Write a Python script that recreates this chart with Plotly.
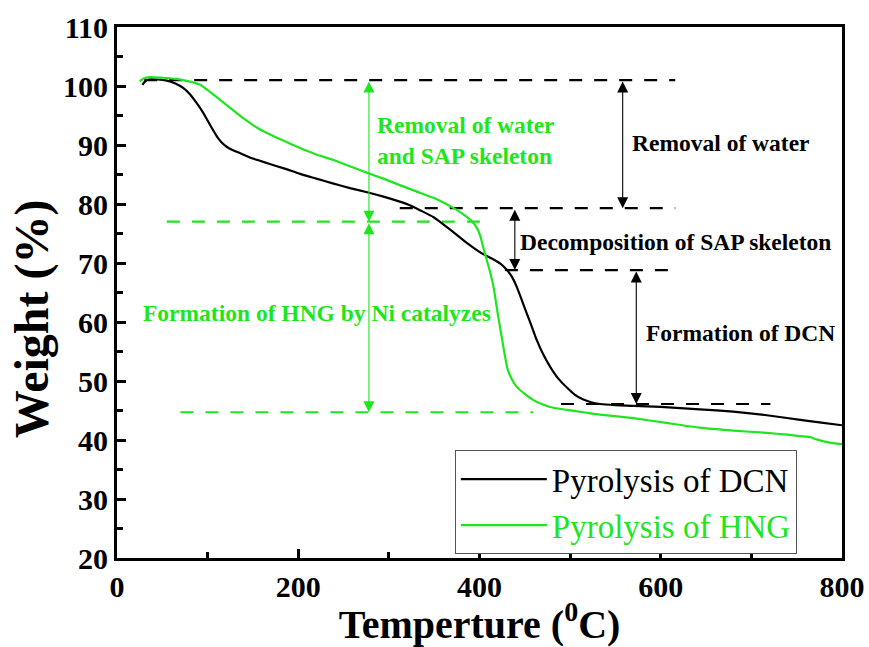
import plotly.graph_objects as go

# ---------------- data ----------------
dcn_temp = [28, 31, 35, 45, 55, 65, 73, 80, 88, 95, 99, 105, 110, 115, 121, 128, 136, 150, 166, 185,
            202, 220, 238, 257, 276, 295, 312, 323, 335, 349, 358, 368, 377, 386, 395, 404, 413, 423,
            428, 432, 436, 441, 446, 452, 458, 463, 470, 478, 487, 497, 505, 514, 523, 533, 550, 570,
            600, 643, 680, 717, 754, 775, 800]
dcn_weight = [100.2, 100.8, 101.1, 101.1, 100.9, 100.4, 99.7, 98.7, 97.1, 95.5, 94.4, 92.8, 91.5, 90.5,
              89.7, 89.1, 88.6, 87.7, 86.9, 86.0, 85.1, 84.3, 83.5, 82.7, 82.0, 81.2, 80.4, 79.8, 78.9,
              77.8, 76.8, 75.6, 74.5, 73.4, 72.4, 71.5, 70.8, 69.9, 69.2, 68.5, 67.6, 66.0, 64.0, 61.5,
              59.1, 57.0, 54.6, 52.4, 50.4, 48.8, 47.7, 46.9, 46.4, 46.1, 45.9, 45.8, 45.6, 45.2, 44.8,
              44.2, 43.4, 43.0, 42.5]

hng_temp = [25, 30, 36, 50, 65, 73, 82, 92, 100, 110, 119, 128, 137, 147, 156, 166, 184, 202, 220, 238,
            257, 276, 294, 312, 331, 350, 368, 377, 386, 392, 397, 401, 404, 408, 412, 416, 419, 422,
            425, 428, 431, 436, 441, 450, 459, 470, 480, 497, 515, 533, 570, 606, 643, 680, 717, 740,
            757, 765, 772, 785, 800]
hng_weight = [100.8, 101.3, 101.5, 101.4, 101.2, 101.0, 100.7, 100.2, 99.3, 98.1, 97.0, 95.9, 94.8,
              93.7, 92.8, 92.0, 90.7, 89.5, 88.4, 87.5, 86.4, 85.3, 84.3, 83.2, 82.1, 81.0, 79.6, 78.8,
              77.8, 77.0, 76.0, 74.5, 72.7, 70.5, 68.3, 65.5, 62.5, 59.7, 57.0, 54.3, 52.0, 50.2, 49.0,
              47.8, 46.8, 46.0, 45.5, 45.1, 44.7, 44.3, 43.7, 42.9, 42.1, 41.6, 41.2, 40.9, 40.6, 40.5,
              40.1, 39.6, 39.3]

# reference levels (weight %) and their temperature spans
black_levels = [101.0, 79.3, 68.8, 46.1]
black_starts = [30, 312, 428, 490]
black_ends = [616, 616, 616, 721]
green_levels = [77.0, 44.7]
green_starts = [55, 70]
green_ends = [406, 459]

# stage arrows: (temperature, from level, to level)
black_arrow_temps = [558, 439, 573]
black_arrow_from = [101.0, 79.3, 68.8]
black_arrow_to = [79.3, 68.8, 46.1]
green_arrow_temps = [278, 278]
green_arrow_from = [101.0, 77.0]
green_arrow_to = [77.0, 44.7]

x_ticks = [0, 200, 400, 600, 800]
y_ticks = [20, 30, 40, 50, 60, 70, 80, 90, 100, 110]

GREEN = "#1ee61e"
FONT = "Liberation Serif, Times New Roman, serif"

fig = go.Figure()

# dashed reference lines
for lv, s, e in zip(black_levels, black_starts, black_ends):
    fig.add_trace(go.Scatter(x=[s, e], y=[lv, lv], mode="lines", showlegend=False, hoverinfo="skip",
                             line=dict(color="black", width=2.2, dash="13px,12px")))
for lv, s, e in zip(green_levels, green_starts, green_ends):
    fig.add_trace(go.Scatter(x=[s, e], y=[lv, lv], mode="lines", showlegend=False, hoverinfo="skip",
                             line=dict(color=GREEN, width=2.2, dash="13px,12px")))

fig.add_trace(go.Scatter(x=dcn_temp, y=dcn_weight, mode="lines", name="Pyrolysis of DCN",
                         line=dict(color="black", width=2.2, shape="spline", smoothing=0.5)))
fig.add_trace(go.Scatter(x=hng_temp, y=hng_weight, mode="lines",
                         name='<span style="color:%s">Pyrolysis of HNG</span>' % GREEN,
                         line=dict(color=GREEN, width=2.2, shape="spline", smoothing=0.5)))

annotations = []


def arrow(x, y0, y1, color):
    return dict(x=x, y=y1, ax=x, ay=y0, xref="x", yref="y", axref="x", ayref="y", text="",
                showarrow=True, arrowside="end+start", arrowhead=2, startarrowhead=2,
                arrowsize=2.0, startarrowsize=2.0, arrowwidth=1.1, arrowcolor=color,
                standoff=0, startstandoff=0)


for t, a, b in zip(black_arrow_temps, black_arrow_from, black_arrow_to):
    annotations.append(arrow(t, a, b, "black"))
for t, a, b in zip(green_arrow_temps, green_arrow_from, green_arrow_to):
    annotations.append(arrow(t, a, b, GREEN))

lab_font_b = dict(family=FONT, size=23.5, color="black", weight="bold")
lab_font_g = dict(family=FONT, size=23.5, color=GREEN, weight="bold")


def label(x, y, text, font):
    return dict(x=x, y=y, xref="x", yref="y", text=text, showarrow=False, xanchor="left",
                yanchor="middle", align="left", font=font)


annotations += [
    label(285, 90.8, "Removal of water<br>and SAP skeleton", lab_font_g),
    label(27, 61.5, "Formation of HNG by Ni catalyzes", lab_font_g),
    label(566, 90.3, "Removal of water", lab_font_b),
    label(442, 73.6, "Decomposition of SAP skeleton", lab_font_b),
    label(582, 58.1, "Formation of DCN", lab_font_b),
]

# y-axis title placed as a rotated annotation
annotations.append(dict(x=-0.117, y=0.45, xref="paper", yref="paper", text="Weight (%)",
                        textangle=-90, showarrow=False, xanchor="center", yanchor="middle",
                        font=dict(family=FONT, size=48, color="black", weight="bold")))

axis_common = dict(showline=True, linewidth=3, linecolor="black", mirror=True, ticks="inside",
                   ticklen=9, tickwidth=3, tickcolor="black", showgrid=False, zeroline=False,
                   tickfont=dict(family=FONT, size=30, color="black", weight="bold"))

fig.update_layout(
    width=869, height=647,
    margin=dict(l=117, r=27, t=27, b=89),
    plot_bgcolor="white", paper_bgcolor="white",
    annotations=annotations,
    xaxis=dict(range=[0, 800], tickvals=x_ticks,
               minor=dict(ticks="inside", ticklen=6, tickwidth=3, tickcolor="black", dtick=100),
               title=dict(text="Temperture (<sup>0</sup>C)", standoff=11,
                          font=dict(family=FONT, size=40, color="black", weight="bold")),
               automargin=False, **axis_common),
    yaxis=dict(range=[20, 110], tickvals=y_ticks,
               minor=dict(ticks="inside", ticklen=6, tickwidth=3, tickcolor="black", dtick=5),
               automargin=False, **axis_common),
    legend=dict(x=0.466, y=0.203, xanchor="left", yanchor="top", bgcolor="white",
                bordercolor="#555555", borderwidth=1, itemwidth=86,
                font=dict(family=FONT, size=33, color="black")),
    showlegend=True,
)

fig.write_html("out.html")
